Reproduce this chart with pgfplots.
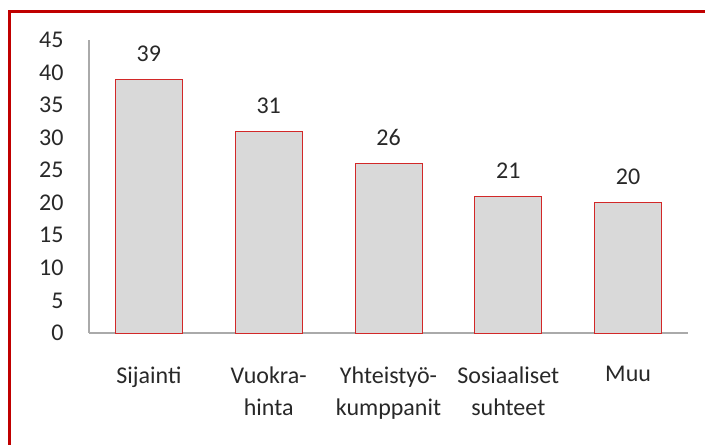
\documentclass[border=0pt]{standalone}
\usepackage{pgfplots}
\pgfplotsset{compat=1.18}
\usepackage{fontspec}
\setmainfont{Carlito}
\definecolor{bordred}{RGB}{192,0,0}
\definecolor{edgered}{RGB}{210,40,40}
\definecolor{barfill}{RGB}{217,217,217}
\definecolor{axgray}{RGB}{170,170,170}
\definecolor{txt}{RGB}{40,40,40}
\begin{document}
\begin{tikzpicture}
\useasboundingbox (0,0) rectangle (705bp,445bp);
\draw[bordred, line width=2.6bp] (9.5bp,0) -- (9.5bp,433.5bp) -- (705bp,433.5bp);
\begin{axis}[
  at={(89bp,112bp)}, anchor=south west,
  scale only axis, width=599bp, height=293bp,
  xmin=-0.5, xmax=4.5, ymin=0, ymax=45,
  ytick={0,5,...,45},
  xtick=data,
  xticklabels={Sijainti, {Vuokra-\\hinta}, {Yhteistyö-\\kumppanit}, {Sosiaaliset\\suhteet}, Muu},
  axis x line*=bottom, axis y line*=left,
  axis line style={axgray, line width=1.6bp},
  tick style={draw=none},
  major tick length=0pt,
  /pgf/number format/assume math mode=true,
  ticklabel style={font=\fontsize{24bp}{32bp}\selectfont, text=txt},
  yticklabel style={xshift=-22bp},
  xticklabel style={align=center, yshift=-30bp},
  ybar, bar width=67bp, bar shift=0pt,
  nodes near coords,
  nodes near coords style={font=\fontsize{24bp}{28bp}\selectfont, text=txt, yshift=14bp},
  clip=false,
]
\addplot[fill=barfill, draw=edgered, line width=0.9bp] coordinates {(0,39) (1,31) (2,26) (3,21) (4,20)};
\end{axis}
\end{tikzpicture}
\end{document}
